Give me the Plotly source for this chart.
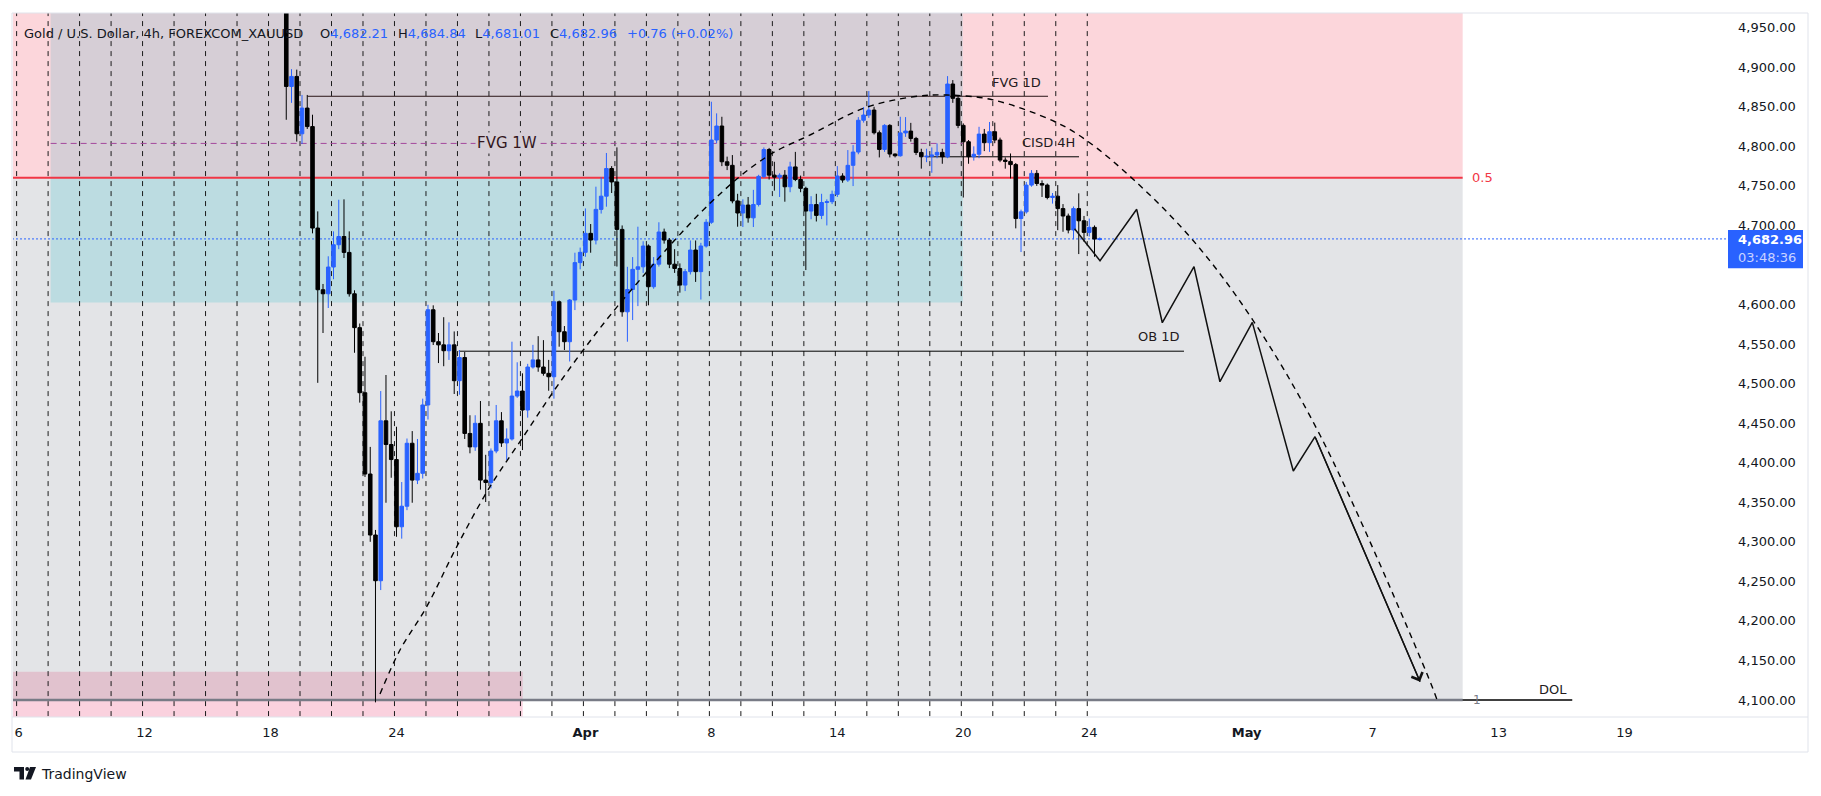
import plotly.graph_objects as go

# ---------------- canvas / plot area (px) ----------------
W, H = 1821, 796
PL, PR, PT, PB = 13, 1727, 13, 717

# ---------------- x axis: bar index (6 bars of 4h per trading session) ----------------
BAR_PX = 5.2483          # pixel pitch of one 4h bar
X0_PX = 18.6             # pixel centre of bar 0 (first bar of the Mar 6 session)
BARS_PER_SESSION = 6
n_sessions_drawn = 35    # Mar 6 ... Apr 24 session separators

tick_bars = [0, 24, 48, 72, 108, 132, 156, 180, 204, 234, 258, 282, 306]
tick_text = ["6", "12", "18", "24", "<b>Apr</b>", "8", "14", "20", "24", "<b>May</b>", "7", "13", "19"]

# ---------------- price axis ----------------
y_min, y_max = 4078.5, 4968.6
price_ticks = [4100, 4150, 4200, 4250, 4300, 4350, 4400, 4450, 4500, 4550, 4600,
               4700, 4750, 4800, 4850, 4900, 4950]   # 4,650 sits under the last-price label

# ---------------- OHLC (4h bars, first visible bar = index 51) ----------------
first_bar = 51
open_ = [
    4990, 4875.7, 4888.4,
    4815.9, 4848.4, 4825, 4696.7, 4618.7, 4613.6,
    4647.4, 4675.6, 4686, 4665.9, 4613.6, 4570.8,
    4488.5, 4385.7, 4308.6, 4250.8, 4453, 4423,
    4404, 4319, 4345, 4424.6, 4378, 4386.6,
    4473, 4593.4, 4553, 4549, 4541.6, 4549,
    4503.7, 4533, 4437, 4420, 4449.8, 4378,
    4375, 4414.8, 4453, 4425, 4430, 4484.3,
    4490.6, 4466.6, 4521, 4530, 4521, 4513,
    4508.7, 4603.5, 4565.6, 4553, 4605.7, 4653,
    4666, 4690, 4681.5, 4720.3, 4737, 4772,
    4755, 4695, 4590.8, 4619, 4644.5, 4647.7,
    4674, 4622.5, 4651, 4691.7, 4681.5, 4651,
    4645.6, 4624.6, 4641.6, 4668.9, 4641.6, 4674,
    4704, 4808, 4825.7, 4780.5, 4776, 4731,
    4715.7, 4725.8, 4709.6, 4726.5, 4762, 4796,
    4763.6, 4761, 4763.5, 4748.9, 4774, 4758.1,
    4746.9, 4718.2, 4726.4, 4712.7, 4729, 4730,
    4739.3, 4762.5, 4757.4, 4776, 4792.8, 4833,
    4839.6, 4845.9, 4817.2, 4796.1, 4826.5, 4790.3,
    4788.1, 4817, 4819.3, 4810, 4792.3, 4786.8,
    4787.5, 4789, 4792.4, 4786.9, 4878.8, 4860.7,
    4826.5, 4805.8, 4786.9, 4790, 4815.5, 4804.6,
    4818.5, 4808, 4782.6, 4781, 4776.9, 4708.7,
    4717.2, 4751, 4765.8, 4753, 4751, 4735.3,
    4737, 4721.3, 4711.9, 4694.2, 4721.3, 4705.9,
    4691.2, 4697.6, 4682.21,
]
high_ = [
    4998, 4897.6, 4897,
    4865, 4865, 4840, 4717.8, 4626, 4661,
    4692.5, 4732.5, 4733, 4692.5, 4618, 4576,
    4534, 4420, 4315, 4490.6, 4510.9, 4465,
    4445.5, 4375.6, 4430.6, 4440, 4430, 4481,
    4599.7, 4599, 4564, 4584, 4577.5, 4566,
    4542.5, 4540, 4460, 4460, 4478, 4410,
    4418, 4473, 4464, 4443.4, 4553, 4527,
    4513, 4525, 4549, 4560, 4555, 4530,
    4617.5, 4605, 4572.8, 4607, 4665.5, 4672,
    4721.5, 4701.8, 4749, 4761, 4791.6, 4775,
    4798.7, 4700, 4647.7, 4660, 4698.4, 4680,
    4676, 4660, 4704, 4696, 4684, 4670,
    4652, 4645, 4681, 4681, 4678, 4708,
    4856.4, 4841.7, 4837.4, 4787, 4789, 4740,
    4733, 4736, 4745, 4764, 4798.6, 4798,
    4780.5, 4766, 4770, 4780.5, 4793, 4763,
    4749, 4737, 4740, 4740, 4733, 4744,
    4775, 4766, 4795.3, 4801.6, 4837, 4849.7,
    4869.9, 4850, 4820, 4828, 4828, 4791,
    4837.4, 4837, 4829.7, 4812, 4797, 4797,
    4798.6, 4803.7, 4797, 4888.8, 4883.8, 4865,
    4829, 4808, 4800, 4824.7, 4822, 4830.8,
    4830, 4811, 4786, 4791, 4779, 4720,
    4755, 4770, 4770, 4757, 4753, 4741,
    4751, 4727, 4715, 4724, 4740.6, 4712,
    4708.7, 4700, 4684.84,
]
low_ = [
    4833.6, 4855, 4806,
    4803, 4822, 4690, 4501, 4564, 4595.6,
    4632, 4670, 4658.8, 4610, 4539, 4476,
    4382, 4300, 4097, 4239, 4349.4, 4381,
    4306.4, 4304, 4340, 4349.4, 4373, 4380,
    4454.6, 4548.8, 4526, 4522, 4530, 4486.9,
    4486, 4430, 4411.9, 4415, 4366, 4350.3,
    4367.6, 4412, 4420, 4403.4, 4428, 4482,
    4416, 4457, 4519, 4515, 4510, 4491,
    4481, 4546.7, 4542.5, 4528, 4593, 4644.5,
    4660.4, 4665.5, 4676, 4715, 4723.7, 4741,
    4648, 4584.6, 4553, 4580.4, 4598, 4640,
    4599, 4620, 4648, 4677, 4646, 4640,
    4615, 4617, 4638, 4628.6, 4606.3, 4672,
    4702, 4804, 4775, 4770, 4728, 4698.4,
    4698, 4703.5, 4698, 4724, 4760, 4758,
    4744, 4736, 4730, 4742, 4756, 4742,
    4643.6, 4707.8, 4705, 4708, 4700, 4727,
    4736, 4754, 4755, 4749.8, 4790, 4830,
    4836, 4815, 4786, 4793, 4786, 4786,
    4787, 4812, 4806, 4789, 4771.8, 4780,
    4766.6, 4785, 4778, 4785, 4855, 4823,
    4735.3, 4778, 4782, 4785, 4794, 4793,
    4804, 4780, 4771.8, 4759.4, 4696.3, 4666.4,
    4715, 4749, 4750, 4736, 4733, 4727.6,
    4694, 4692, 4690, 4682.5, 4663.8, 4679.4,
    4686, 4660.4, 4681.01,
]
close_ = [
    4875.7, 4888.4, 4815.9,
    4848.4, 4825, 4696.7, 4618.7, 4613.6, 4647.4,
    4675.6, 4686, 4665.9, 4613.6, 4570.8, 4488.5,
    4385.7, 4308.6, 4250.8, 4453, 4423, 4404,
    4319, 4345, 4424.6, 4378, 4386.6, 4473,
    4593.4, 4553, 4549, 4541.6, 4549, 4503.7,
    4533, 4437, 4420, 4449.8, 4378, 4375,
    4414.8, 4453, 4425, 4430, 4484.3, 4490.6,
    4466.6, 4521, 4530, 4521, 4513, 4508.7,
    4603.5, 4565.6, 4553, 4605.7, 4653, 4666,
    4690, 4681.5, 4720.3, 4737, 4772, 4755,
    4695, 4590.8, 4619, 4644.5, 4647.7, 4674,
    4622.5, 4651, 4691.7, 4681.5, 4651, 4645.6,
    4624.6, 4641.6, 4668.9, 4641.6, 4674, 4704,
    4808, 4825.7, 4780.5, 4776, 4731, 4715.7,
    4725.8, 4709.6, 4726.5, 4762, 4796, 4763.6,
    4761, 4763.5, 4748.9, 4774, 4758.1, 4746.9,
    4718.2, 4726.4, 4712.7, 4729, 4730, 4739.3,
    4762.5, 4757.4, 4776, 4792.8, 4833, 4839.6,
    4845.9, 4817.2, 4796.1, 4826.5, 4790.3, 4788.1,
    4817, 4819.3, 4810, 4792.3, 4786.8, 4787.5,
    4789, 4792.4, 4786.9, 4878.8, 4860.7, 4826.5,
    4805.8, 4786.9, 4790, 4815.5, 4804.6, 4818.5,
    4808, 4782.6, 4781, 4776.9, 4708.7, 4717.2,
    4751, 4765.8, 4753, 4751, 4735.3, 4737,
    4721.3, 4711.9, 4694.2, 4721.3, 4705.9, 4691.2,
    4697.6, 4682.8, 4682.96,
]
bars = list(range(first_bar, first_bar + len(close_)))
last_price = close_[-1]

# ---------------- drawings (price levels / anchors in bar units) ----------------
fib_level_half = 4760.3
fib_level_one = 4100.0
fib_right_bar = 275.15

fvg1w_left, fvg1w_right = 6.1, 179.9
fvg1w_bottom, fvg1w_mid, fvg1w_top = 4602.5, 4803.7, 5005.0

sell_box_right, sell_box_top = 96.05, 4135.8

fvg1d_level, fvg1d_x = 4863.3, (55.05, 196.14)
cisd_level, cisd_x = 4786.8, (172.86, 202.05)
ob_level, ob_x = 4541.0, (83.86, 222.05)
dol_level, dol_x = 4100.0, (270.83, 296.03)

zig_bars = [201.2, 206.05, 213.04, 217.92, 223.96, 228.9, 235.07, 242.88, 247.02, 267.03]
zig_price = [4695.9, 4655.4, 4720.4, 4577.0, 4647.8, 4502.4, 4577.5, 4389.5, 4432.9, 4123.1]

arc_bars = [68.86, 72.67, 77.76, 83.48, 89.82, 96.17, 101.88, 107.6, 114.59, 131.74, 142.54,
            151.42, 160.95, 170.47, 176.84, 185.66, 197.47, 203.38, 212.53, 223.71, 234.95,
            247.96, 268.3, 270.51]
arc_price = [4107.6, 4163.2, 4218.0, 4293.8, 4369.7, 4432.9, 4489.8, 4542.5, 4601.5, 4728.0,
             4786.9, 4816.4, 4848.0, 4862.7, 4864.9, 4858.7, 4831.1, 4808.0, 4757.4, 4681.5,
             4582.5, 4435.0, 4133.8, 4095.8]

# ---------------- colours ----------------
BULL, BEAR = "#2962ff", "#000000"
PINK, GREY, MAUVE, TEAL = "#fcd6db", "#e3e4e7", "#d6ced6", "#bcdce1"
BOX_ON_GREY, BOX_ON_WHITE = "#e1c2ce", "#fad1de"
TXT = "#131722"
LABEL = "#231a1c"
FONT = "DejaVu Sans"

x_range = [(PL - X0_PX) / BAR_PX, (PR - X0_PX) / BAR_PX]


def paper_x(px):
    return (px - PL) / (PR - PL)


def paper_y(py):
    return (PB - py) / (PB - PT)


fig = go.Figure()

fig.add_trace(go.Candlestick(
    x=bars, open=open_, high=high_, low=low_, close=close_,
    increasing=dict(line=dict(color=BULL, width=1), fillcolor=BULL),
    decreasing=dict(line=dict(color=BEAR, width=1), fillcolor=BEAR),
    whiskerwidth=0, hoverinfo="skip", showlegend=False,
))
fig.add_trace(go.Scatter(x=arc_bars, y=arc_price, mode="lines", hoverinfo="skip",
                         line=dict(color="#000000", width=1.4, dash="6px,5px", shape="spline", smoothing=1.0),
                         showlegend=False))
fig.add_trace(go.Scatter(x=zig_bars, y=zig_price, mode="lines", hoverinfo="skip",
                         line=dict(color="#111111", width=1.5), showlegend=False))

shapes = []


def rect(x0, x1, y0, y1, color, layer="below"):
    shapes.append(dict(type="rect", xref="x", yref="y", x0=x0, x1=x1, y0=y0, y1=y1,
                       fillcolor=color, line=dict(width=0), layer=layer))


def hline(x0, x1, y, color, width=1, dash="solid", layer="below"):
    shapes.append(dict(type="line", xref="x", yref="y", x0=x0, x1=x1, y0=y, y1=y,
                       line=dict(color=color, width=width, dash=dash), layer=layer))


far_left = x_range[0] - 20
# fib retracement zones
rect(far_left, fib_right_bar, fib_level_half, y_max + 600, PINK)
rect(far_left, fib_right_bar, fib_level_one, fib_level_half, GREY)
# FVG 1W box
rect(fvg1w_left, fvg1w_right, fib_level_half, fvg1w_top, MAUVE)
rect(fvg1w_left, fvg1w_right, fvg1w_bottom, fib_level_half, TEAL)
# bottom pink box
rect(far_left, sell_box_right, fib_level_one, sell_box_top, BOX_ON_GREY)
rect(far_left, sell_box_right, y_min - 100, fib_level_one, BOX_ON_WHITE)

# session separators
for s in range(n_sessions_drawn):
    xb = s * BARS_PER_SESSION - 0.38
    shapes.append(dict(type="line", xref="x", yref="y", x0=xb, x1=xb, y0=y_min - 100, y1=y_max + 100,
                       line=dict(color="#1c1c1c", width=1, dash="5px,5px"), layer="below"))

hline(far_left, x_range[1] + 20, last_price, "#2962ff", 1, "2px,2px")
hline(fvg1w_left, fvg1w_right, fvg1w_mid, "#a3479c", 1, "6px,4px")
hline(fvg1d_x[0], fvg1d_x[1], fvg1d_level, "#2a1517", 1)
hline(cisd_x[0], cisd_x[1], cisd_level, "#000000", 1)
hline(ob_x[0], ob_x[1], ob_level, "#000000", 1)
hline(far_left, fib_right_bar, fib_level_half, "#f23645", 2)
hline(dol_x[0], dol_x[1], dol_level, "#000000", 1.5)
hline(far_left, fib_right_bar, fib_level_one, "#787b86", 2.4)


def prect(x0, x1, y0, y1, fill=None, line=None, layer="above"):
    d = dict(type="rect", xref="paper", yref="paper", x0=paper_x(x0), x1=paper_x(x1),
             y0=paper_y(y0), y1=paper_y(y1), layer=layer)
    d["fillcolor"] = fill if fill else "rgba(0,0,0,0)"
    d["line"] = line if line else dict(width=0)
    shapes.append(d)


def pline(x0, y0, x1, y1, color="#e0e3eb", width=1):
    shapes.append(dict(type="line", xref="paper", yref="paper", x0=paper_x(x0), x1=paper_x(x1),
                       y0=paper_y(y0), y1=paper_y(y1), line=dict(color=color, width=width), layer="above"))


# chart frame
pline(12, 13, 1808, 13)
pline(12, 13, 12, 752)
pline(1808, 13, 1808, 752)
pline(12, 752, 1808, 752)
pline(12, 717, 1808, 717)

# last price label box
prect(1728, 1803, 230, 268.3, fill="#2962ff")


# TradingView logo
def ppath(points):
    s = "M" + " L".join(f"{paper_x(a):.5f},{paper_y(b):.5f}" for a, b in points) + " Z"
    shapes.append(dict(type="path", xref="paper", yref="paper", path=s,
                       fillcolor="#131722", line=dict(width=0), layer="above"))


ppath([(14, 767), (24, 767), (24, 779.5), (19.5, 779.5), (19.5, 771.5), (14, 771.5)])
shapes.append(dict(type="circle", xref="paper", yref="paper", x0=paper_x(25.2), x1=paper_x(29.2),
                   y0=paper_y(767), y1=paper_y(771), fillcolor="#131722", line=dict(width=0), layer="above"))
ppath([(30, 767), (36, 767), (31, 779.5), (25.5, 779.5)])

annotations = []


def label(x, y, text, size=13, color=TXT, xanchor="center", yanchor="middle", ref="data", **kw):
    a = dict(x=x, y=y, text=text, showarrow=False, xanchor=xanchor, yanchor=yanchor,
             font=dict(family=FONT, size=size, color=color))
    if ref == "paper":
        a.update(xref="paper", yref="paper")
    else:
        a.update(xref="x", yref="y")
    a.update(kw)
    annotations.append(a)


label(93.0, fvg1w_mid, "FVG 1W", size=15, color="#33161d", bgcolor=MAUVE, borderpad=1)
label(190.2, 4880.5, "FVG 1D", color=LABEL)
label(196.14, 4804.6, "CISD 4H", color=LABEL)
label(217.25, 4559.3, "OB 1D", color=LABEL)
label(292.4, 4113.5, "DOL", color=LABEL)
label(279.0, fib_level_half, "0.5", color="#f23645")
label(277.8, fib_level_one, "1", size=12, color="#787b86")

# header
BLUE = "#2962ff"
label(paper_x(21.7), paper_y(33), "Gold / U.S. Dollar, 4h, FOREXCOM_XAUUSD", xanchor="left", ref="paper")
header_parts = [("O", "4,682.21", 318), ("H", "4,684.84", 396), ("L", "4,681.01", 473), ("C", "4,682.96", 548)]
for key, val, px in header_parts:
    label(paper_x(px), paper_y(33), f"{key}<span style='color:{BLUE}'>{val}</span>", xanchor="left", ref="paper")
label(paper_x(625), paper_y(33), "+0.76 (+0.02%)", color=BLUE, xanchor="left", ref="paper")

# price box texts
label(paper_x(1735.7), paper_y(240), f"<b>{last_price:,.2f}</b>", color="#ffffff", xanchor="left", ref="paper")
label(paper_x(1735.7), paper_y(257.7), "03:48:36", color="#c9d3ff", xanchor="left", ref="paper")

# TradingView wordmark
label(paper_x(38.6), paper_y(773.5), "TradingView", size=14, color="#131722", xanchor="left", ref="paper")

# projection arrowhead
annotations.append(dict(x=zig_bars[-1], y=zig_price[-1], ax=zig_bars[-2], ay=zig_price[-2],
                        xref="x", yref="y", axref="x", ayref="y", text="", showarrow=True,
                        arrowhead=4, arrowsize=1.8, arrowwidth=1.3, arrowcolor="#111111", standoff=0))

fig.update_layout(
    width=W, height=H,
    margin=dict(l=PL, r=W - PR, t=PT, b=H - PB, pad=0),
    paper_bgcolor="#ffffff", plot_bgcolor="#ffffff",
    boxgap=0.2, boxgroupgap=0.15,
    showlegend=False,
    font=dict(family=FONT, size=13, color=TXT),
    shapes=shapes, annotations=annotations,
    xaxis=dict(range=x_range, showgrid=False, zeroline=False, showline=False,
               tickmode="array", tickvals=tick_bars, ticktext=tick_text, ticks="",
               tickfont=dict(family=FONT, size=13, color=TXT),
               rangeslider=dict(visible=False), fixedrange=True, ticklabelstandoff=6),
    yaxis=dict(range=[y_min, y_max], side="right", showgrid=False, zeroline=False, showline=False,
               tickmode="array", tickvals=price_ticks, tickformat=",.2f",
               ticks="", tickfont=dict(family=FONT, size=13, color=TXT), fixedrange=True,
               ticklabelstandoff=10),
)

fig.write_html("out.html", config={"displayModeBar": False})
